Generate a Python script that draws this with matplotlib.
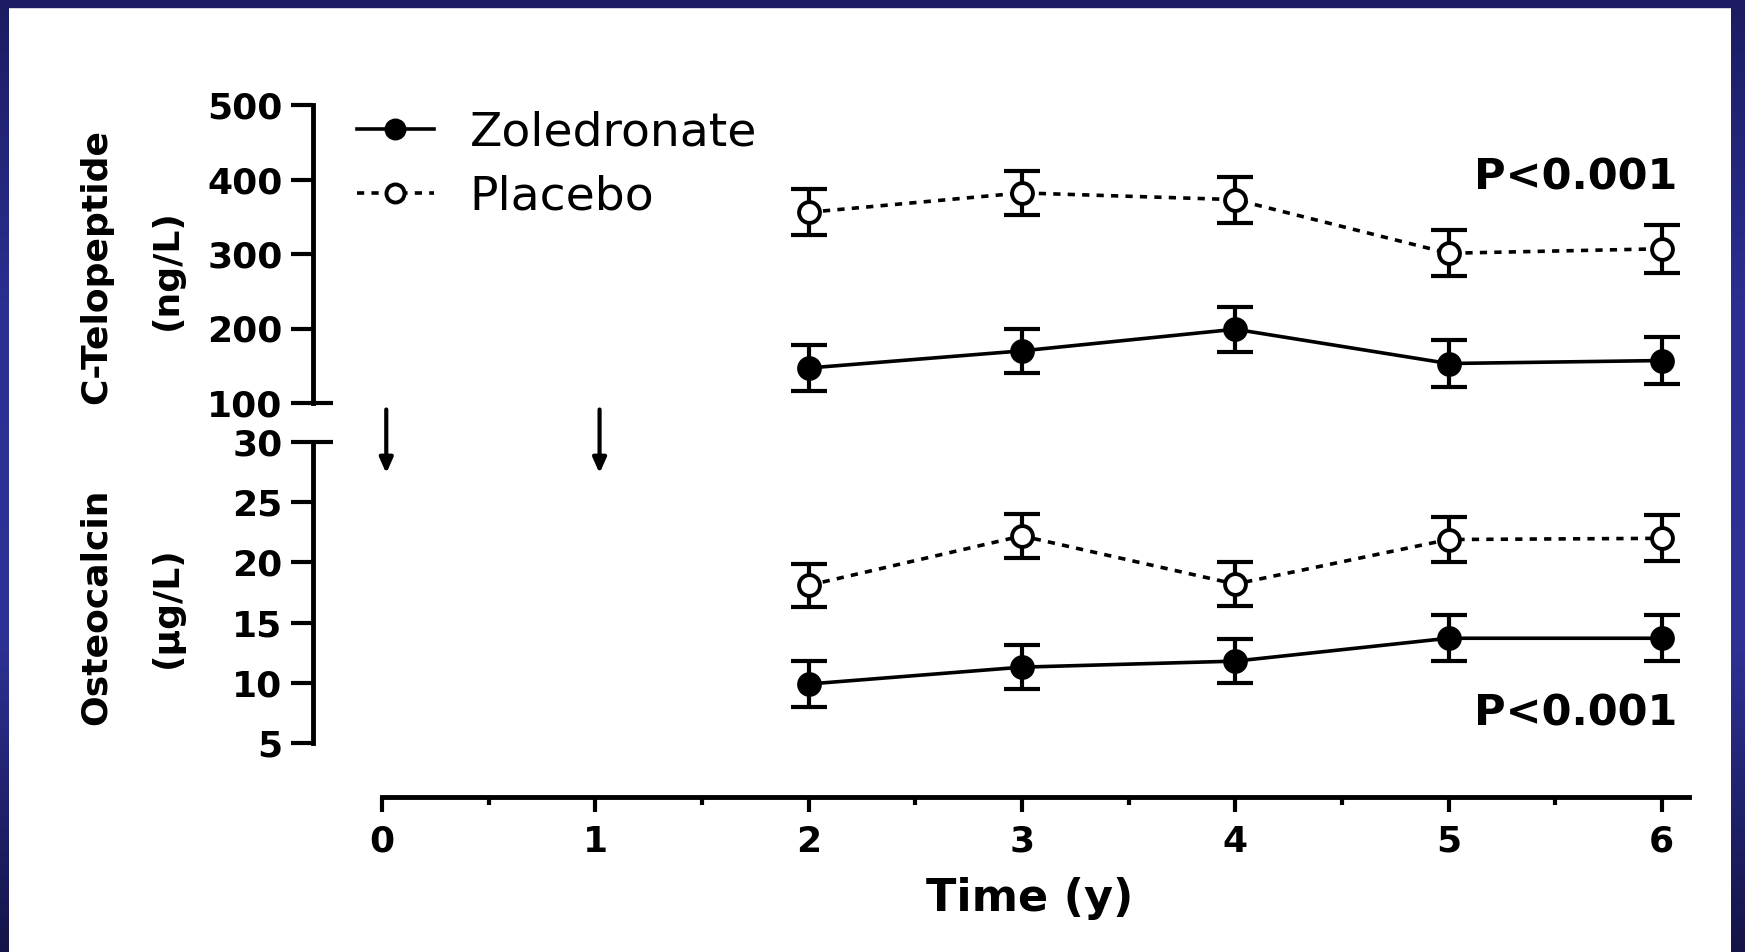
import numpy as np
import matplotlib
matplotlib.use("Agg")
import matplotlib.pyplot as plt
from matplotlib.lines import Line2D
from matplotlib.transforms import blended_transform_factory

# values (mean +/- SE)
years = [2, 3, 4, 5, 6]
ctx_zol = [147, 170, 199, 153, 157]
ctx_zol_err = [31, 30, 30, 31, 31]
ctx_pla = [356, 382, 373, 301, 307]
ctx_pla_err = [31, 30, 31, 31, 32]
oc_zol = [9.9, 11.3, 11.8, 13.7, 13.7]
oc_zol_err = [1.9, 1.8, 1.8, 1.9, 1.9]
oc_pla = [18.1, 22.2, 18.2, 21.9, 22.0]
oc_pla_err = [1.8, 1.8, 1.8, 1.9, 1.9]
dose_years = [0, 1]
ctx_ticks = [100, 200, 300, 400, 500]
oc_ticks = [5, 10, 15, 20, 25, 30]
x_ticks = [0, 1, 2, 3, 4, 5, 6]

W, H = 1745, 952
plt.rcParams["font.family"] = ["DejaVu Sans"]
fig = plt.figure(figsize=(W / 100, H / 100), dpi=100)

# navy slide frame
bg = fig.add_axes([0, 0, 1, 1], zorder=-10)
bg.set_xlim(0, W)
bg.set_ylim(H, 0)
bg.axis("off")
grad = np.linspace(0, 1, 200)[:, None]
cmap = matplotlib.colors.LinearSegmentedColormap.from_list(
    "frame", ["#1c1c62", "#2b2f92", "#2e3296", "#141448"])
bg.imshow(grad, cmap=cmap, aspect="auto", extent=[0, 9, H, 0])
bg.imshow(grad, cmap=cmap, aspect="auto", extent=[W - 14, W, H, 0])
bg.add_patch(plt.Rectangle((0, 0), W, 7, color="#1c1c64"))

x_left, x_right = 313, 1689
x0_px, unit_px = 382, 213.3
xlim = ((x_left - x0_px) / unit_px, (x_right - x0_px) / unit_px)
left = x_left / W
width = (x_right - x_left) / W

ax_top = fig.add_axes([left, 1 - 403 / H, width, (403 - 105) / H])
ax_bot = fig.add_axes([left, 1 - 797 / H, width, (797 - 442) / H])

lw_sp = 3.5
tick_fs = 26
for ax in (ax_top, ax_bot):
    ax.set_xlim(*xlim)
    ax.patch.set_alpha(0)
    for s in ("top", "right"):
        ax.spines[s].set_visible(False)
    ax.spines["left"].set_linewidth(lw_sp)
    ax.spines["bottom"].set_linewidth(lw_sp)
    ax.tick_params(axis="y", length=16, width=3, pad=6, labelsize=tick_fs)

# top panel: C-telopeptide
ax_top.set_ylim(100, 500)
ax_top.set_yticks(ctx_ticks)
ax_top.spines["bottom"].set_visible(False)
ax_top.tick_params(axis="x", bottom=False, labelbottom=False)

# bottom panel: osteocalcin
oc_bottom = 5 - (797 - 743) / 12.04
ax_bot.set_ylim(oc_bottom, 30)
ax_bot.set_yticks(oc_ticks)
ax_bot.spines["left"].set_bounds(5, 30)
ax_bot.spines["bottom"].set_bounds(0, xlim[1])
ax_bot.set_xticks(x_ticks)
ax_bot.set_xticks(np.arange(0.5, 6, 1), minor=True)
ax_bot.tick_params(axis="x", which="major", length=11, width=3, pad=9,
                   labelsize=tick_fs)
ax_bot.tick_params(axis="x", which="minor", length=6, width=3)

for ax in (ax_top, ax_bot):
    for lab in ax.get_yticklabels() + ax.get_xticklabels():
        lab.set_fontweight("bold")

# axis break marks
for ax, yv in ((ax_top, 100), (ax_bot, 30)):
    tr = blended_transform_factory(ax.transAxes, ax.transData)
    ax.plot([0, 0.0145], [yv, yv], color="black", lw=3, transform=tr,
            clip_on=False, solid_capstyle="butt")

dash = (0, (2.0, 2.0))
ms = 15


def series(ax, y, err, filled):
    ls = "-" if filled else dash
    ax.plot(years, y, color="black", lw=2.6, linestyle=ls, zorder=2)
    ax.errorbar(years, y, yerr=err, fmt="none", ecolor="black", elinewidth=3,
                capsize=13, capthick=3, zorder=3)
    ax.plot(years, y, "o", ms=ms, color="black", mew=2.8,
            mfc="black" if filled else "white", zorder=4)


series(ax_top, ctx_pla, ctx_pla_err, False)
series(ax_top, ctx_zol, ctx_zol_err, True)
series(ax_bot, oc_pla, oc_pla_err, False)
series(ax_bot, oc_zol, oc_zol_err, True)

# dosing arrows
for d in dose_years:
    ax_bot.annotate("", xy=(d + 0.02, 27.4), xytext=(d + 0.02, 32.7),
                    annotation_clip=False,
                    arrowprops=dict(arrowstyle="-|>,head_length=0.9,head_width=0.4",
                                    color="black", lw=3, shrinkA=0, shrinkB=0))

# axis titles
lab_fs = 26
fig.text(96 / W, 1 - 266 / H, "C-Telopeptide", rotation=90, fontsize=lab_fs,
         fontweight="bold", ha="center", va="center")
fig.text(167 / W, 1 - 270 / H, "(ng/L)", rotation=90, fontsize=lab_fs,
         fontweight="bold", ha="center", va="center")
fig.text(96 / W, 1 - 607 / H, "Osteocalcin", rotation=90, fontsize=lab_fs,
         fontweight="bold", ha="center", va="center")
fig.text(167 / W, 1 - 607 / H, "(\u00b5g/L)", rotation=90, fontsize=lab_fs,
         fontweight="bold", ha="center", va="center")
fig.text(1030 / W, 1 - 898 / H, "Time (y)", fontsize=32, fontweight="bold",
         ha="center", va="center")

# p-values
fig.text(1677 / W, 1 - 178 / H, "P<0.001", fontsize=31, fontweight="bold",
         ha="right", va="center")
fig.text(1677 / W, 1 - 714 / H, "P<0.001", fontsize=31, fontweight="bold",
         ha="right", va="center")

# legend
handles = [
    Line2D([], [], color="black", lw=2.6, marker="o", ms=13, mfc="black", mew=2.8),
    Line2D([], [], color="black", lw=2.6, linestyle=dash, marker="o", ms=13,
           mfc="white", mew=2.8),
]
fig.legend(handles, ["Zoledronate", "Placebo"], loc="upper left",
           bbox_to_anchor=(314 / W, 1 - 68 / H), frameon=False, fontsize=34,
           handlelength=1.65, handletextpad=0.75, labelspacing=0.4)

fig.savefig("out.png", dpi=100, facecolor="white")
